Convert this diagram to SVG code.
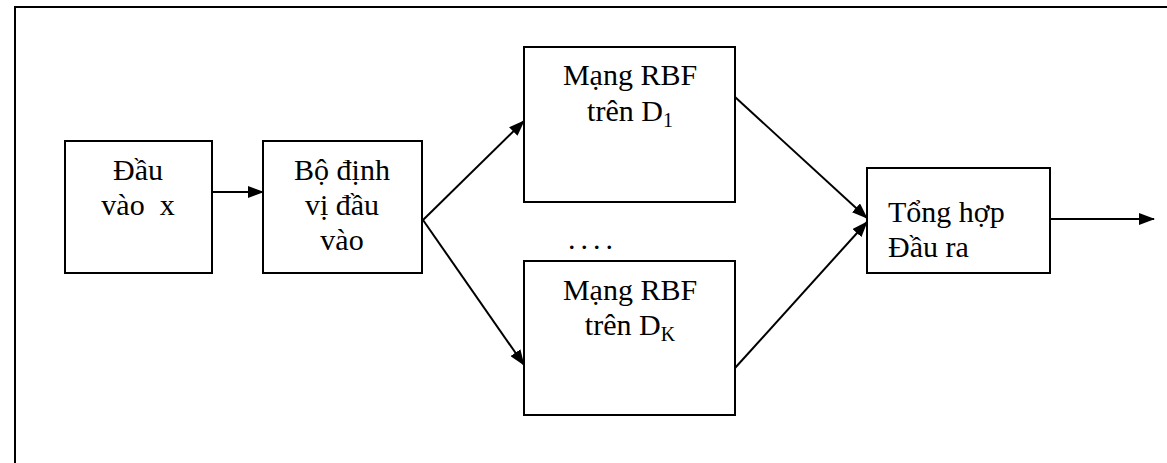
<svg xmlns="http://www.w3.org/2000/svg" width="1167" height="463" viewBox="0 0 1167 463">
<style>
.box{fill:#fff;stroke:#000;stroke-width:2}
.t{font-family:"Liberation Serif","Times New Roman",serif;font-size:30px;fill:#000}
.c{text-anchor:middle}
.sub{font-size:20px}
.edge{stroke:#000;stroke-width:2;fill:none}
</style>
<defs>
<marker id="ah" markerUnits="userSpaceOnUse" markerWidth="16" markerHeight="12" refX="15" refY="6" orient="auto">
<path d="M0,0 L16,6 L0,12 Z" fill="#000"/>
</marker>
</defs>
<rect width="1167" height="463" fill="#fff"/>
<rect x="15" y="7" width="1170" height="480" fill="none" stroke="#000" stroke-width="2"/>
<g id="connectors">
<line class="edge" x1="212" y1="192" x2="263" y2="192" marker-end="url(#ah)"/>
<line class="edge" x1="423" y1="220" x2="524" y2="121" marker-end="url(#ah)"/>
<line class="edge" x1="423" y1="220" x2="524" y2="365" marker-end="url(#ah)"/>
<line class="edge" x1="735" y1="97" x2="867" y2="218" marker-end="url(#ah)"/>
<line class="edge" x1="735" y1="368" x2="867" y2="222" marker-end="url(#ah)"/>
<line class="edge" x1="1050" y1="219" x2="1154" y2="219" marker-end="url(#ah)"/>
</g>
<g id="input">
<rect class="box" x="65" y="141" width="147" height="132"/>
<text class="t c" x="138" y="180">Đầu</text>
<text class="t c" x="138" y="215" xml:space="preserve">vào  x</text>
</g>
<g id="locator">
<rect class="box" x="263" y="141" width="159" height="132"/>
<text class="t c" x="342" y="180">Bộ định</text>
<text class="t c" x="342" y="215">vị đầu</text>
<text class="t c" x="342" y="250">vào</text>
</g>
<g id="rbf1">
<rect class="box" x="524" y="47" width="211" height="155"/>
<text class="t c" x="630" y="85">Mạng RBF</text>
<text class="t c" x="630" y="121">trên D<tspan class="sub" dy="6">1</tspan></text>
</g>
<text class="t" x="568" y="249" font-size="22" letter-spacing="5">....</text>
<g id="rbfk">
<rect class="box" x="524" y="261" width="211" height="154"/>
<text class="t c" x="630" y="300">Mạng RBF</text>
<text class="t c" x="630" y="335">trên D<tspan class="sub" dy="6">K</tspan></text>
</g>
<g id="output">
<rect class="box" x="867" y="168" width="183" height="105"/>
<text class="t" x="888" y="222">Tổng hợp</text>
<text class="t" x="888" y="257">Đầu ra</text>
</g>
</svg>
